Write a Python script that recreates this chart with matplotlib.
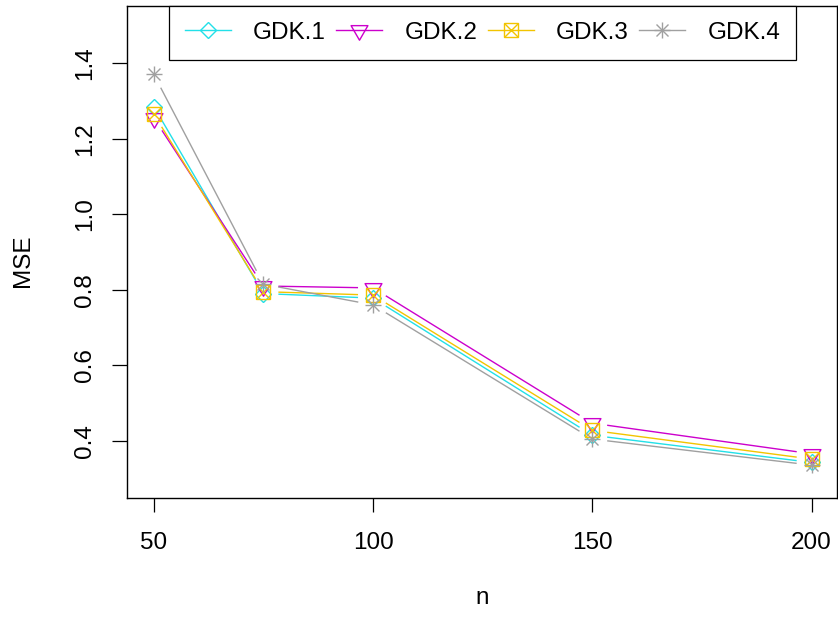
import numpy as np
import matplotlib
matplotlib.use("Agg")
import matplotlib.pyplot as plt
from matplotlib.lines import Line2D
from matplotlib.path import Path
from matplotlib.legend_handler import HandlerTuple

plt.rcParams['font.family'] = ['Liberation Sans', 'DejaVu Sans']

n = [50, 75, 100, 150, 200]
gdk1 = [1.285, 0.790, 0.778, 0.415, 0.343]
gdk2 = [1.255, 0.810, 0.805, 0.447, 0.366]
gdk3 = [1.265, 0.795, 0.786, 0.428, 0.352]
gdk4 = [1.370, 0.815, 0.760, 0.405, 0.336]
labels = ["GDK.1", "GDK.2", "GDK.3", "GDK.4"]
xticks = [50, 100, 150, 200]
yticks = [0.4, 0.6, 0.8, 1.0, 1.2, 1.4]

colors = ["#22E0E8", "#CC00CC", "#F2C400", "#A0A0A0"]

W, H = 838, 620
fig = plt.figure(figsize=(W / 100, H / 100), dpi=100)
ax = fig.add_axes([127 / W, (H - 498) / H, (837 - 127) / W, (498 - 6) / H])
ax.set_xlim(43.9, 205.8)
ax.set_ylim(0.249, 1.551)

tri = Path([(-1, 0.577), (1, 0.577), (0, -1.155), (-1, 0.577)],
           [Path.MOVETO, Path.LINETO, Path.LINETO, Path.CLOSEPOLY])
FS = 17.5
lw = 1.0
mew = 1.0

def gapped(x, y, color, gap=15):
    trans = ax.transData
    pts = trans.transform(np.column_stack([x, y]))
    inv = trans.inverted()
    for i in range(len(pts) - 1):
        p0, p1 = pts[i], pts[i + 1]
        d = p1 - p0
        L = np.hypot(*d)
        if L <= 2 * gap:
            continue
        u = d / L
        seg = inv.transform(np.array([p0 + u * gap, p1 - u * gap]))
        ax.plot(seg[:, 0], seg[:, 1], color=color, lw=lw, solid_capstyle='butt')

series = [gdk1, gdk2, gdk3, gdk4]
for s, c in zip(series, colors):
    gapped(n, s, c)

mk = dict(linestyle='none', markerfacecolor='none', markeredgewidth=mew)
ax.plot(n, gdk1, marker='D', ms=8.6, color=colors[0], **mk)
ax.plot(n, gdk2, marker=tri, ms=14, color=colors[1], **mk)
ax.plot(n, gdk3, marker='s', ms=9.4, color=colors[2], **mk)
ax.plot(n, gdk3, marker='x', ms=9.4, color=colors[2], **mk)
ax.plot(n, gdk4, marker='+', ms=12, color=colors[3], **mk)
ax.plot(n, gdk4, marker='x', ms=8.5, color=colors[3], **mk)

handles = [
    Line2D([], [], color=colors[0], lw=lw, marker='D', ms=8.6, markerfacecolor='none', markeredgewidth=mew),
    Line2D([], [], color=colors[1], lw=lw, marker=tri, ms=14, markerfacecolor='none', markeredgewidth=mew),
    (Line2D([], [], color=colors[2], lw=lw, marker='s', ms=9.4, markerfacecolor='none', markeredgewidth=mew),
     Line2D([], [], color=colors[2], lw=0, marker='x', ms=9.4, markeredgewidth=mew)),
    (Line2D([], [], color=colors[3], lw=lw, marker='+', ms=12, markeredgewidth=mew),
     Line2D([], [], color=colors[3], lw=0, marker='x', ms=8.5, markeredgewidth=mew)),
]
x0 = (169 - 127) / 710
w = (796 - 169) / 710
leg = ax.legend(handles, labels, ncol=4, loc='upper left',
                bbox_to_anchor=(x0, 1.0, w, 0.0), mode='expand',
                borderaxespad=0, fontsize=FS, handlelength=1.9,
                handletextpad=0.9, columnspacing=0.45, borderpad=0.65,
                fancybox=False, framealpha=1, edgecolor='black',
                handler_map={tuple: HandlerTuple(ndivide=1)})
leg.get_frame().set_linewidth(0.9)

for sp in ax.spines.values():
    sp.set_color('black')
    sp.set_linewidth(1.0)

ax.set_xticks(xticks)
ax.set_xticklabels([str(v) for v in xticks])
ax.set_yticks(yticks)
ax.set_yticklabels([f"{v:.1f}" for v in yticks], rotation=90, va='center')
ax.tick_params(axis='x', length=10, width=0.9, pad=14.7, labelsize=FS, color='black')
ax.tick_params(axis='y', length=10.5, width=0.9, pad=12, labelsize=FS, color='black')

ax.set_xlabel('n', fontsize=FS)
ax.set_ylabel('MSE', fontsize=FS)
ax.xaxis.set_label_coords(0.5, (498 - 598) / 492)
ax.xaxis.label.set_va('center')
ax.yaxis.set_label_coords((22.5 - 127) / 710, 0.5 + (252 - 261) / 492)
ax.yaxis.label.set_va('center')

fig.savefig('out.png', dpi=100)
